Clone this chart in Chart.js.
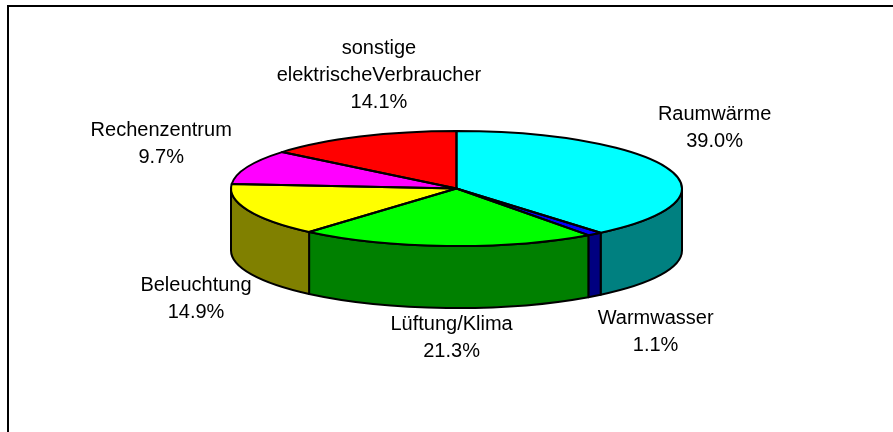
<!DOCTYPE html>
<html>
<head>
<meta charset="utf-8">
<style>
html,body{margin:0;padding:0;background:#fff;}
canvas{display:block;}
</style>
<script src="https://cdn.jsdelivr.net/npm/chart.js@4"></script>
</head>
<body>
<canvas id="c" width="893" height="432"></canvas>
<script>
const categories = ['Raumwärme','Warmwasser','Lüftung/Klima','Beleuchtung','Rechenzentrum','sonstige elektrischeVerbraucher'];
const values = [39.0,1.1,21.3,14.9,9.7,14.1];
const topColors = ['#00FFFF','#0000FF','#00FF00','#FFFF00','#FF00FF','#FF0000'];
const sideColors = ['#008080','#000080','#008000','#808000','#800080','#800000'];
const labelLines = [['Raumwärme'],['Warmwasser'],['Lüftung/Klima'],['Beleuchtung'],['Rechenzentrum'],['sonstige','elektrischeVerbraucher']];

const RX = 225.5, RY = 57.5, DEPTH = 62, LINE = 2;
const LABEL_FONT = '20px "Liberation Sans", Arial, sans-serif';
const LINE_H = 27;
// offset of each label's centre (first line) from the rim point of its slice
const labelOffsets = [[46,-54],[61,84.5],[5,79],[-52,75],[-86,-37],[19,-88]];

const pie3d = {
  id:'pie3d',
  beforeDraw(chart){
    const c = chart.ctx;
    c.save();
    c.fillStyle = '#fff';
    c.fillRect(0,0,chart.width,chart.height);
    c.strokeStyle = '#000';
    c.lineWidth = 2;
    c.beginPath();
    c.moveTo(8,chart.height);
    c.lineTo(8,6);
    c.lineTo(chart.width,6);
    c.stroke();
    c.restore();
  },
  beforeDatasetsDraw(chart){
    const c = chart.ctx, arcs = chart.getDatasetMeta(0).data;
    const a0 = arcs[0];
    c.save();
    c.strokeStyle = '#000';
    c.lineWidth = LINE;
    c.lineJoin = 'round';
    arcs.forEach((el,i)=>{
      const p = el.getProps(['x','y','startAngle','endAngle'],true);
      const full = Math.PI*2;
      // the visible wall is the part of the rim in the front half (0..PI)
      [[p.startAngle,p.endAngle],[p.startAngle-full,p.endAngle-full],[p.startAngle+full,p.endAngle+full]].forEach(([s,e])=>{
        const from = Math.max(s,0), to = Math.min(e,Math.PI);
        if (to <= from) return;
        c.beginPath();
        c.ellipse(p.x,p.y,RX,RY,0,from,to);
        c.ellipse(p.x,p.y+DEPTH,RX,RY,0,to,from,true);
        c.closePath();
        c.fillStyle = sideColors[i];
        c.fill();
        c.stroke();
      });
    });
    c.restore();
    // the library's own slices are painted on the squashed plane
    const r = a0.outerRadius;
    c.save();
    c.translate(a0.x,a0.y);
    c.scale(RX/r,RY/r);
    c.translate(-a0.x,-a0.y);
  },
  afterDatasetsDraw(chart){
    const c = chart.ctx, arcs = chart.getDatasetMeta(0).data;
    c.restore();
    c.save();
    c.strokeStyle = '#000';
    c.lineWidth = LINE;
    c.lineJoin = 'round';
    arcs.forEach(el=>{
      c.beginPath();
      c.moveTo(el.x,el.y);
      c.ellipse(el.x,el.y,RX,RY,0,el.startAngle,el.endAngle);
      c.closePath();
      c.stroke();
    });
    c.fillStyle = '#000';
    c.font = LABEL_FONT;
    c.textAlign = 'center';
    c.textBaseline = 'middle';
    arcs.forEach((el,i)=>{
      const mid = (el.startAngle+el.endAngle)/2;
      const x = el.x+RX*Math.cos(mid)+labelOffsets[i][0];
      const y = el.y+RY*Math.sin(mid)+labelOffsets[i][1];
      const lines = labelLines[i].concat(values[i].toFixed(1)+'%');
      lines.forEach((t,k)=>c.fillText(t,x,y+k*LINE_H));
    });
    c.restore();
  }
};

new Chart(document.getElementById('c'),{
  type:'pie',
  data:{
    labels:categories,
    datasets:[{data:values,backgroundColor:topColors,borderWidth:0,clip:false}]
  },
  options:{
    responsive:false,
    animation:false,
    layout:{padding:{left:356.5,right:336.5,top:88.5,bottom:143.5}},
    plugins:{legend:{display:false},tooltip:{enabled:false}}
  },
  plugins:[pie3d]
});
</script>
</body>
</html>
